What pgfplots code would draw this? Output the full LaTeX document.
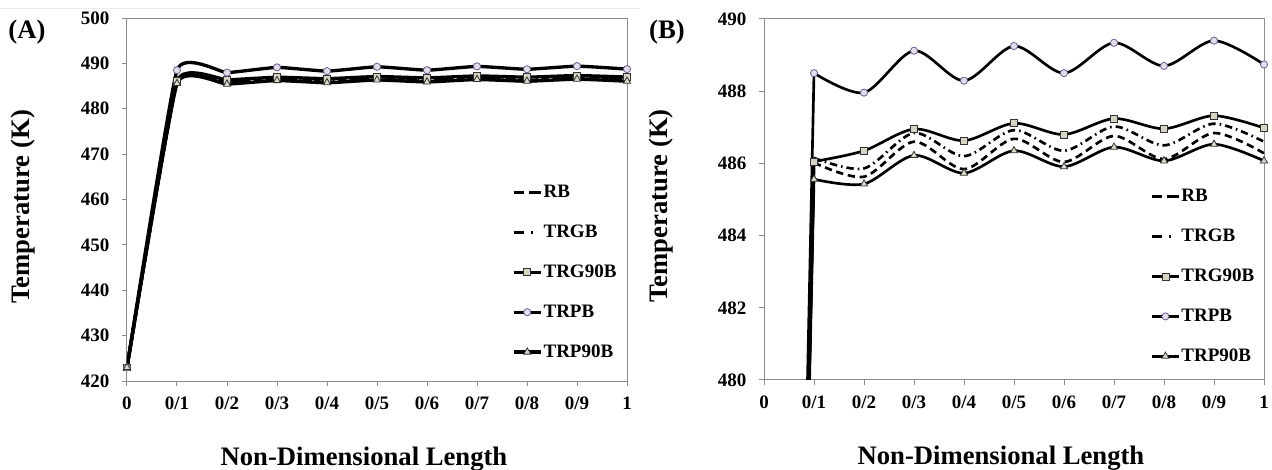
\documentclass[border=0pt]{standalone}
\usepackage{pgfplots}
\pgfplotsset{compat=1.18}
\usepackage{pgfplotstable}
\usepackage{fontspec}
\setmainfont{Liberation Serif}
\definecolor{axgray}{HTML}{8C8C8C}
\definecolor{sqfill}{HTML}{D6D3C3}
\definecolor{cifill}{HTML}{E3DDE8}
\definecolor{cidraw}{HTML}{6B5B95}
\definecolor{trfill}{HTML}{DCD9C6}
\definecolor{mkdraw}{HTML}{333333}

\pgfplotstableread{
x    RB     TRGB   TRG    TRPB   TRP
0    423    423    423    423    423
0.1  486.02 486.15 486.05 488.50 485.56
0.2  485.63 485.86 486.35 487.96 485.43
0.3  486.60 486.84 486.95 489.12 486.22
0.4  485.84 486.20 486.63 488.29 485.73
0.5  486.68 486.92 487.11 489.25 486.35
0.6  486.04 486.35 486.80 488.50 485.91
0.7  486.76 487.02 487.24 489.34 486.45
0.8  486.12 486.50 486.96 488.70 486.07
0.9  486.84 487.10 487.32 489.40 486.53
1.0  486.28 486.60 486.98 488.74 486.07
}\datatab

\pgfplotsset{
  panel/.style={
    scale only axis, width=375pt,
    axis line style={draw=axgray, line width=0.75pt},
    tick align=outside, tick pos=left, major tick length=3.75pt,
    major tick style={draw=axgray, line width=0.75pt},
    xmin=0, xmax=1,
    xtick={0,0.1,0.2,0.3,0.4,0.5,0.6,0.7,0.8,0.9,1},
    xticklabels={0,0/1,0/2,0/3,0/4,0/5,0/6,0/7,0/8,0/9,1},
    tick label style={font=\fontsize{14.25}{16}\selectfont\bfseries},
    xticklabel style={yshift=-4.5pt},
    yticklabel style={xshift=-6pt},
    /pgf/number format/assume math mode=true,
    label style={font=\fontsize{20}{22}\selectfont\bfseries},
    xlabel={Non-Dimensional Length},
    ylabel={Temperature (K)},
    legend cell align=left,
    legend style={draw=none, fill=none, inner sep=0pt, row sep=17pt,
      font=\fontsize{14.25}{16}\selectfont\bfseries,
      nodes={inner sep=1pt}},
    legend image code/.code={\draw[mark repeat=2,mark phase=2,#1]
      plot coordinates {(0pt,0pt) (10pt,0pt) (20pt,0pt)};},
  },
  lw/.style={line width=2pt},
  rb/.style={black, lw, dash pattern=on 5.5pt off 3.5pt,
    legend image code/.code={\draw[##1, line width=2pt, dash pattern=on 7.5pt off 3.75pt on 8.75pt off 0pt] (0pt,0pt)--(20pt,0pt);}},
  trgb/.style={black, lw, dash pattern=on 5.5pt off 3pt on 1.2pt off 3pt,
    legend image code/.code={\draw[##1, line width=2pt, dash pattern=on 7.5pt off 5.5pt on 1.5pt off 6pt] (0pt,0pt)--(20pt,0pt);}},
  trg/.style={black, lw, mark=square*,
    mark options={solid, fill=sqfill, draw=mkdraw, line width=0.6pt, mark size=2.6pt}},
  trpb/.style={black, lw, mark=*,
    mark options={solid, fill=cifill, draw=cidraw, line width=0.6pt, mark size=2.7pt}},
  trp/.style={black, lw, mark=triangle*,
    mark options={solid, fill=trfill, draw=mkdraw, line width=0.6pt, mark size=3.1pt}},
  seg/.style={black, lw, solid, no markers, forget plot,
    restrict x to domain=-0.01:0.15},
  rest/.style={smooth, restrict x to domain=0.05:1.1},
}

\begin{document}
\begin{tikzpicture}
\useasboundingbox (0,0) rectangle (954pt,351.75pt);
\draw[gray!15, line width=0.75pt] (0pt,345pt) -- (480pt,345pt);
\node[font=\fontsize{20}{22}\selectfont\bfseries] at (20.25pt,327.75pt) {(A)};
\node[font=\fontsize{20}{22}\selectfont\bfseries] at (500.25pt,327.75pt) {(B)};

% Panel A
\begin{axis}[panel, at={(95.25pt,66pt)}, anchor=south west, height=272.25pt,
  ymin=420, ymax=500, ytick={420,430,...,500},
  lw/.style={line width=2.5pt},
  xlabel style={at={(axis description cs:0.474,-0.2314)}, anchor=base},
  ylabel style={at={(axis description cs:-0.194,0.480)}, anchor=base},
  legend style={at={(axis description cs:0.770,0.5435)}, anchor=north west},
  ]
\addplot[rb, smooth, tension=0.23] table[x=x, y=RB] {\datatab};
\addplot[trgb, smooth, tension=0.23] table[x=x, y=TRGB] {\datatab};
\addplot[trg, smooth, tension=0.23] table[x=x, y=TRG] {\datatab};
\addplot[trpb, smooth, tension=0.23] table[x=x, y=TRPB] {\datatab};
\addplot[trp, smooth, tension=0.23] table[x=x, y=TRP] {\datatab};
\legend{RB,TRGB,TRG90B,TRPB,TRP90B}
\end{axis}

% Panel B
\begin{axis}[panel, at={(573pt,66.75pt)}, anchor=south west, height=270.75pt,
  ymin=480, ymax=490, ytick={480,482,...,490},
  xlabel style={at={(axis description cs:0.474,-0.2355)}, anchor=base},
  ylabel style={at={(axis description cs:-0.194,0.482)}, anchor=base},
  legend style={at={(axis description cs:0.773,0.532)}, anchor=north west},
  ]
\addplot[seg] table[x=x, y=RB] {\datatab};
\addplot[seg] table[x=x, y=TRGB] {\datatab};
\addplot[seg] table[x=x, y=TRG] {\datatab};
\addplot[seg] table[x=x, y=TRPB] {\datatab};
\addplot[seg] table[x=x, y=TRP] {\datatab};
\addplot[rb, rest] table[x=x, y=RB] {\datatab};
\addplot[trgb, rest] table[x=x, y=TRGB] {\datatab};
\addplot[trg, rest] table[x=x, y=TRG] {\datatab};
\addplot[trpb, rest] table[x=x, y=TRPB] {\datatab};
\addplot[trp, rest] table[x=x, y=TRP] {\datatab};
\legend{RB,TRGB,TRG90B,TRPB,TRP90B}
\end{axis}
\end{tikzpicture}
\end{document}
